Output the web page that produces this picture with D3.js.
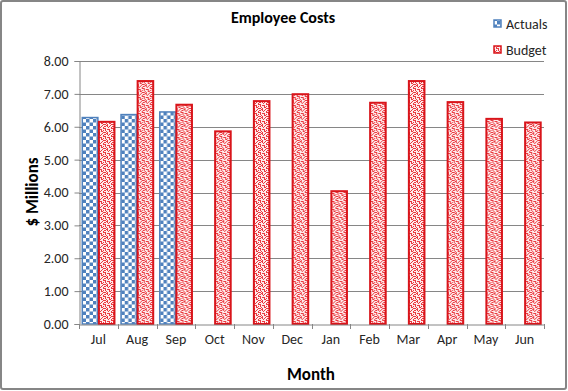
<!DOCTYPE html>
<html>
<head>
<meta charset="utf-8">
<script src="https://cdn.jsdelivr.net/npm/d3@7"></script>
<style>
  html, body { margin: 0; padding: 0; background: #fff; }
  svg { display: block; font-family: Carlito, Lato, "Open Sans", sans-serif; }
</style>
</head>
<body>
<svg id="chart" width="568" height="391"></svg>
<script>
const months = ["Jul","Aug","Sep","Oct","Nov","Dec","Jan","Feb","Mar","Apr","May","Jun"];
const actuals = [6.28, 6.37, 6.45, null, null, null, null, null, null, null, null, null];
const budget = [6.15, 7.39, 6.67, 5.86, 6.78, 6.99, 4.04, 6.73, 7.39, 6.75, 6.24, 6.13];
const yTicks = [0, 1, 2, 3, 4, 5, 6, 7, 8];
const seriesNames = ["Actuals", "Budget"];

const svg = d3.select("#chart");
const W = 568, H = 391;
const mLeft = 79, mRight = 544, mTop = 61, mBottom = 324;

// outer border
svg.append("rect").attr("x", 1).attr("y", 1).attr("width", W - 3).attr("height", H - 3)
  .attr("rx", 2).attr("fill", "#fff").attr("stroke", "#868686").attr("stroke-width", 2);

// patterns
const defs = svg.append("defs");
const pa = defs.append("pattern").attr("id", "checker").attr("patternUnits", "userSpaceOnUse")
  .attr("width", 7).attr("height", 7).attr("x", 0).attr("y", 0);
pa.append("rect").attr("width", 7).attr("height", 7).attr("fill", "#fff");
pa.append("rect").attr("width", 3.5).attr("height", 3.5).attr("fill", "#4f81bd");
pa.append("rect").attr("x", 3.5).attr("y", 3.5).attr("width", 3.5).attr("height", 3.5).attr("fill", "#4f81bd");

const pb = defs.append("pattern").attr("id", "weave").attr("patternUnits", "userSpaceOnUse")
  .attr("width", 8).attr("height", 8);
pb.append("rect").attr("width", 8).attr("height", 8).attr("fill", "#fff");
const weaveCells = [[0,0],[1,0],[2,0],[4,1],[5,1],[6,1],[0,2],[2,1],[2,2],[3,3],[6,2],[6,3],[0,4],[1,4],[2,4],[4,4],[4,5],[4,6],[5,7],[6,6],[7,5],[1,6],[2,6],[0,7],[3,5],[7,3]];
weaveCells.forEach(([cx, cy]) => pb.append("rect").attr("x", cx).attr("y", cy).attr("width", 1).attr("height", 1).attr("fill", "#e8222a"));
pb.append("rect").attr("width", 8).attr("height", 8).attr("fill", "#f7a0a0").attr("opacity", 0.2);

const x = d3.scaleBand().domain(months).range([mLeft, mRight]).paddingInner(0).paddingOuter(0);
const xs = d3.scaleBand().domain(seriesNames).range([0, x.bandwidth()]).paddingOuter(0.168).paddingInner(0);
const y = d3.scaleLinear().domain([0, 8]).range([mBottom, mTop]);

// gridlines
svg.append("g").selectAll("line").data(yTicks.filter(d => d > 0)).join("line")
  .attr("x1", mLeft).attr("x2", mRight)
  .attr("y1", d => Math.round(y(d)) + 0.5).attr("y2", d => Math.round(y(d)) + 0.5)
  .attr("stroke", "#868686").attr("stroke-width", 1);

// y axis
const yAxis = svg.append("g").attr("transform", `translate(${mLeft + 0.5},0)`)
  .call(d3.axisLeft(y).tickValues(yTicks).tickFormat(d3.format(".2f")).tickSize(5).tickPadding(6));
yAxis.select(".domain").attr("stroke", "#868686");
yAxis.selectAll(".tick line").attr("stroke", "#868686");
yAxis.selectAll(".tick text").attr("font-size", 14).attr("fill", "#262626")
  .attr("font-family", "Carlito, Lato, sans-serif");

// bars
const groups = svg.append("g").selectAll("g").data(months).join("g")
  .attr("transform", d => `translate(${x(d)},0)`);
groups.each(function(m, i) {
  const g = d3.select(this);
  if (actuals[i] != null) {
    g.append("rect").attr("x", xs("Actuals") + 0.5).attr("y", y(actuals[i]))
      .attr("width", xs.bandwidth() - 1).attr("height", y(0) - y(actuals[i]))
      .attr("fill", "url(#checker)").attr("stroke", "#4f81bd").attr("stroke-width", 1.5);
  }
  g.append("rect").attr("x", xs("Budget") + 0.5).attr("y", y(budget[i]))
    .attr("width", xs.bandwidth() - 1).attr("height", y(0) - y(budget[i]))
    .attr("fill", "url(#weave)").attr("stroke", "#d9151b").attr("stroke-width", 2);
});

// x axis
const xAxis = svg.append("g").attr("transform", `translate(0,${mBottom + 0.5})`)
  .call(d3.axisBottom(x).tickSize(0).tickPadding(10));
xAxis.select(".domain").attr("stroke", "#868686");
xAxis.selectAll(".tick text").attr("font-size", 14).attr("fill", "#262626")
  .attr("font-family", "Carlito, Lato, sans-serif");
svg.append("g").selectAll("line").data(months.concat(["end"])).join("line")
  .attr("x1", (d, i) => Math.round(i < months.length ? x(d) : mRight) + 0.5)
  .attr("x2", (d, i) => Math.round(i < months.length ? x(d) : mRight) + 0.5)
  .attr("y1", mBottom).attr("y2", mBottom + 5)
  .attr("stroke", "#868686");

// title
svg.append("text").attr("x", 283).attr("y", 23).attr("text-anchor", "middle")
  .attr("font-size", 16).attr("font-weight", "bold").attr("fill", "#000").text("Employee Costs");

// axis titles
svg.append("text").attr("x", 311).attr("y", 380).attr("text-anchor", "middle")
  .attr("font-size", 17).attr("font-weight", "bold").attr("fill", "#000").text("Month");
svg.append("text").attr("transform", "translate(38,192) rotate(-90)").attr("text-anchor", "middle")
  .attr("font-size", 17).attr("font-weight", "bold").attr("fill", "#000").text("$ Millions");

// legend
const legend = svg.append("g");
const legItems = [{name: "Actuals", fill: "url(#checker)", stroke: "#4f81bd", ly: 24},
                  {name: "Budget", fill: "url(#weave)", stroke: "#d9151b", ly: 50}];
legItems.forEach(it => {
  legend.append("rect").attr("x", 494).attr("y", it.ly - 4).attr("width", 7).attr("height", 7)
    .attr("fill", it.fill).attr("stroke", it.stroke).attr("stroke-width", 1.5);
  legend.append("text").attr("x", 506).attr("y", it.ly + 5).attr("font-size", 14)
    .attr("fill", "#262626").text(it.name);
});
</script>
</body>
</html>
